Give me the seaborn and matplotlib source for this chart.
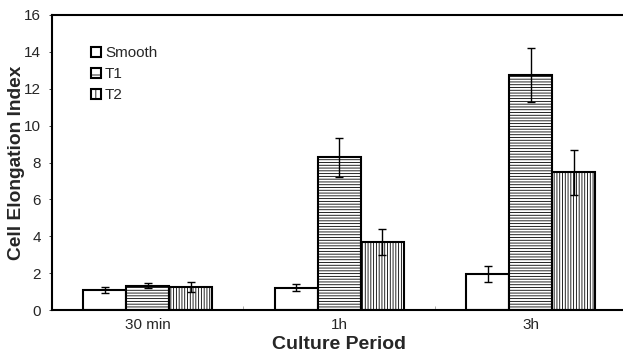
import matplotlib
matplotlib.use("Agg")
import matplotlib.pyplot as plt
from matplotlib.patches import Patch
import numpy as np
import pandas as pd
import seaborn as sns

# Cell elongation index by culture period and surface type
periods = ["30 min", "1h", "3h"]
surfaces = ["Smooth", "T1", "T2"]
smooth_mean = [1.08, 1.21, 1.95]
t1_mean = [1.32, 8.28, 12.75]
t2_mean = [1.23, 3.70, 7.47]
smooth_err = [0.15, 0.18, 0.43]
t1_err = [0.15, 1.04, 1.46]
t2_err = [0.27, 0.69, 1.22]
y_ticks = [0, 2, 4, 6, 8, 10, 12, 14, 16]

sns.set_style("ticks")
plt.rcParams["font.family"] = ["Liberation Sans", "DejaVu Sans"]
plt.rcParams["hatch.linewidth"] = 0.6
plt.rcParams["hatch.color"] = "#333333"

means = {"Smooth": smooth_mean, "T1": t1_mean, "T2": t2_mean}
errs = {"Smooth": smooth_err, "T1": t1_err, "T2": t2_err}
df = pd.DataFrame(
    [(p, s, means[s][i], errs[s][i]) for s in surfaces for i, p in enumerate(periods)],
    columns=["period", "surface", "value", "err"],
)

fig = plt.figure(figsize=(6.23, 3.57), dpi=100)
ax = fig.add_axes([52 / 623, 47 / 357, 574.5 / 623, 295 / 357])

sns.barplot(
    data=df, x="period", y="value", hue="surface",
    order=periods, hue_order=surfaces,
    palette=["white"] * 3, width=0.675, errorbar=None,
    edgecolor="black", linewidth=1.5, legend=False, ax=ax,
)

hatches = {"Smooth": "", "T1": "------", "T2": "||||||"}
# seaborn draws bars hue level by hue level
for k, s in enumerate(surfaces):
    for i in range(len(periods)):
        bar = ax.patches[k * len(periods) + i]
        bar.set_hatch(hatches[s])
        bar.set_zorder(2)
        xc = bar.get_x() + bar.get_width() / 2
        ax.errorbar(xc, bar.get_height(), yerr=errs[s][i], fmt="none",
                    ecolor="black", elinewidth=1.0, capsize=3, capthick=1.0,
                    zorder=3)

ax.set_xlim(-0.5, 2.5)
ax.set_ylim(0, 16)
ax.set_yticks(y_ticks)
ax.set_yticklabels([str(t) for t in y_ticks], fontsize=11)
ax.tick_params(axis="y", length=2, width=0.6, pad=6)
ax.tick_params(axis="x", which="major", length=0, labelsize=11, pad=6)
ax.set_xticks([0.5, 1.5], minor=True)
ax.tick_params(axis="x", which="minor", direction="in", length=3, width=0.5,
               color="#888888")

for side in ["left", "bottom", "top"]:
    ax.spines[side].set_visible(True)
    ax.spines[side].set_linewidth(1.5)
    ax.spines[side].set_color("black")
ax.spines["right"].set_visible(False)

ax.set_xlabel("Culture Period", fontsize=14, fontweight="bold")
ax.set_ylabel("Cell Elongation Index", fontsize=13.8, fontweight="bold")
ax.xaxis.set_label_coords(0.5, -0.088)
ax.yaxis.set_label_coords(-0.047, 0.5)

handles = [Patch(facecolor="white", edgecolor="black", linewidth=1.5,
                 hatch={"Smooth": "", "T1": "-", "T2": "||"}[s], label=s)
           for s in surfaces]
ax.legend(handles=handles, loc="upper left", bbox_to_anchor=(0.055, 0.92),
          frameon=False, fontsize=11, handlelength=0.65, handleheight=0.65,
          handletextpad=0.25, labelspacing=0.45, borderpad=0)

fig.savefig("out.png", dpi=100)
